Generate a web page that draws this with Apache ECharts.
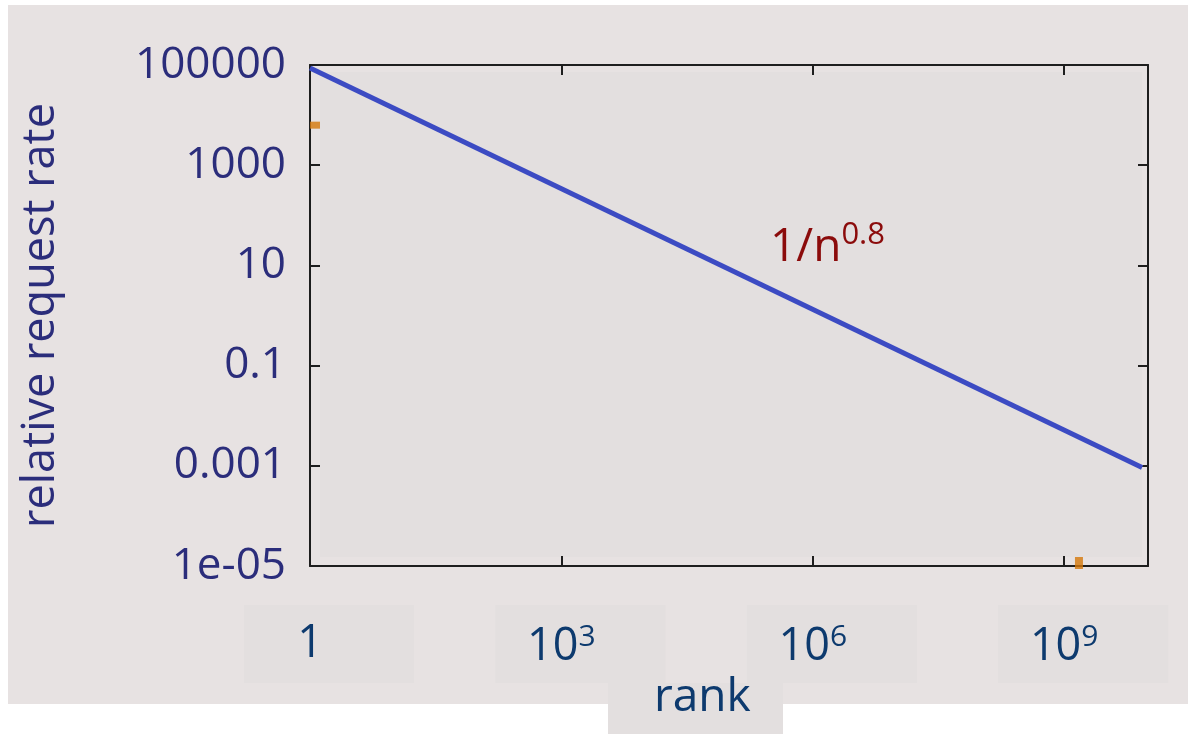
<!DOCTYPE html>
<html>
<head>
<meta charset="utf-8">
<script src="https://cdn.jsdelivr.net/npm/echarts@6/dist/echarts.min.js"></script>
<style>
html, body { margin: 0; padding: 0; background: #ffffff; }
#chart { width: 1197px; height: 734px; }
</style>
</head>
<body>
<div id="chart"></div>
<script>
// Popularity curve: relative request rate versus rank, falling as 1/n^0.8
const rankPoints = [1, 8.5e9];
const ratePoints = [87000, 0.00093];

// Short orange markers sitting on the axes
const markerRanks = [1, 1.5e9];
const markerRates = [6300, 1e-5];

// Axis tick labels
const xTickExponents = [0, 3, 6, 9];
const yTickValues = [1e-5, 0.001, 0.1, 10, 1000, 100000];
const yTickLabels = ['1e-05', '0.001', '0.1', '10', '1000', '100000'];

const FONT = "'Open Sans', 'DejaVu Sans', sans-serif";
const AXIS_COLOR = '#1e1e1e';
const PANEL = '#e7e2e2';
const INNER = '#e3dfdf';

const chart = echarts.init(document.getElementById('chart'));

function exp10(v) { return Math.round(Math.log10(v)); }

function xLabel(v) {
  const e = exp10(v);
  if (xTickExponents.indexOf(e) < 0) return '';
  return e === 0 ? '{b|1}' : '{b|10}{s|' + e + '}';
}

function yLabel(v) {
  const e = exp10(v);
  for (let i = 0; i < yTickValues.length; i++) {
    if (exp10(yTickValues[i]) === e) return yTickLabels[i];
  }
  return '';
}

const lineData = rankPoints.map((r, i) => [r, ratePoints[i]]);
const markerData = [
  { value: [markerRanks[0], markerRates[0]], symbolSize: [10, 7], symbolOffset: [5, 0] },
  { value: [markerRanks[1], markerRates[1]], symbolSize: [8, 12], symbolOffset: [0, -3] }
];

const axisCommon = {
  axisLine: { show: true, lineStyle: { color: AXIS_COLOR, width: 2 } },
  axisTick: { show: true, inside: true, length: 10, lineStyle: { color: AXIS_COLOR, width: 2 } },
  splitLine: { show: false },
  minorTick: { show: false }
};

const option = {
  animation: false,
  backgroundColor: '#ffffff',
  grid: { left: 310, right: 49, top: 65, bottom: 168 },
  xAxis: [
    Object.assign({
      type: 'log', min: 1, max: 1e10, interval: 3, position: 'bottom',
      axisLabel: {
        formatter: xLabel, margin: 56,
        rich: {
          b: { fontFamily: FONT, fontSize: 45, color: '#0d3a6e', verticalAlign: 'bottom' },
          s: { fontFamily: FONT, fontSize: 30, color: '#0d3a6e', verticalAlign: 'bottom', padding: [0, 0, 18, 0] }
        }
      }
    }, axisCommon),
    Object.assign({
      type: 'log', min: 1, max: 1e10, interval: 3, position: 'top',
      axisLabel: { show: false }
    }, axisCommon)
  ],
  yAxis: [
    Object.assign({
      type: 'log', min: 1e-5, max: 1e5, interval: 2, position: 'left',
      name: 'relative request rate', nameLocation: 'middle', nameGap: 246,
      nameTextStyle: { fontFamily: FONT, fontSize: 45, color: '#2b2d7b' },
      axisLabel: { formatter: yLabel, margin: 24, fontFamily: FONT, fontSize: 44, color: '#2b2d7b' }
    }, axisCommon),
    Object.assign({
      type: 'log', min: 1e-5, max: 1e5, interval: 2, position: 'right',
      axisLabel: { show: false }
    }, axisCommon)
  ],
  series: [
    {
      type: 'line', data: lineData, showSymbol: false, z: 3,
      lineStyle: { color: '#3c4bc3', width: 5 }
    },
    {
      type: 'scatter', data: markerData, symbol: 'rect', z: 4,
      itemStyle: { color: '#d4780a' }
    }
  ]
};

chart.setOption(option);

// Background panels and label boxes, placed from the axis scales
const gx = v => chart.convertToPixel({ xAxisIndex: 0 }, v);
const gy = v => chart.convertToPixel({ yAxisIndex: 0 }, v);
const x0 = gx(1), x1 = gx(1e10), yTop = gy(1e5), yBot = gy(1e-5);

const graphics = [
  { type: 'rect', z: -30, shape: { x: 8, y: 5, width: 1180, height: 699 }, style: { fill: PANEL } },
  { type: 'rect', z: -20, shape: { x: x0 + 10, y: yTop + 7, width: (x1 - x0) - 16, height: (yBot - yTop) - 16 }, style: { fill: INNER } }
];
xTickExponents.forEach(e => {
  const px = gx(Math.pow(10, e));
  graphics.push({ type: 'rect', z: -20, shape: { x: px - 66, y: yBot + 39, width: 170, height: 78 }, style: { fill: INNER } });
});
graphics.push({ type: 'rect', z: -20, shape: { x: 608, y: 683, width: 175, height: 51 }, style: { fill: INNER } });
graphics.push({
  type: 'text', z: 10, left: 654, top: 675,
  style: { text: 'rank', fontFamily: FONT, fontSize: 46, fill: '#0d3a6e' }
});
graphics.push({
  type: 'text', z: 10, left: 770, top: 220,
  style: {
    text: '{a|1/n}{b|0.8}',
    rich: {
      a: { fontFamily: FONT, fontSize: 46, fill: '#8b0b0b', verticalAlign: 'bottom' },
      b: { fontFamily: FONT, fontSize: 31, fill: '#8b0b0b', verticalAlign: 'bottom', padding: [0, 0, 20, 0] }
    }
  }
});

chart.setOption({ graphic: graphics });
</script>
</body>
</html>
